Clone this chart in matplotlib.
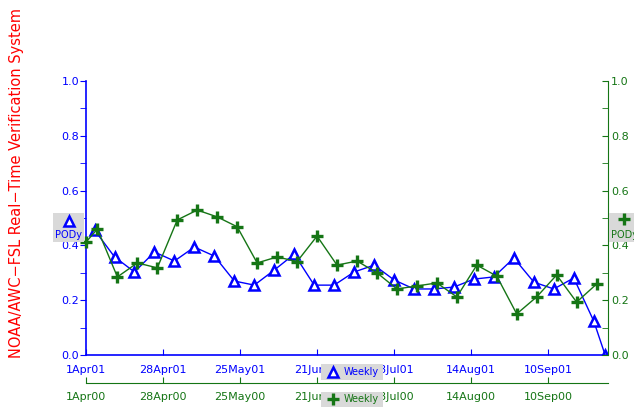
import datetime as dt
import matplotlib
matplotlib.use('Agg')
import matplotlib.pyplot as plt
from matplotlib.patches import Rectangle
from matplotlib.lines import Line2D

# weekly PODy, 2001 (blue, left/top axes) and 2000 (green, right/bottom axes)
blue_dates = ['2001-04-04', '2001-04-11', '2001-04-18', '2001-04-25', '2001-05-02',
              '2001-05-09', '2001-05-16', '2001-05-23', '2001-05-30', '2001-06-06',
              '2001-06-13', '2001-06-20', '2001-06-27', '2001-07-04', '2001-07-11',
              '2001-07-18', '2001-07-25', '2001-08-01', '2001-08-08', '2001-08-15',
              '2001-08-22', '2001-08-29', '2001-09-05', '2001-09-12', '2001-09-19',
              '2001-09-26', '2001-09-30']
blue_pod = [0.456, 0.358, 0.303, 0.376, 0.343, 0.394, 0.361, 0.270, 0.255, 0.310,
            0.368, 0.255, 0.255, 0.303, 0.328, 0.274, 0.241, 0.241, 0.248, 0.277,
            0.285, 0.354, 0.266, 0.241, 0.281, 0.124, 0.0]

green_dates = ['2000-04-01', '2000-04-05', '2000-04-12', '2000-04-19', '2000-04-26',
               '2000-05-03', '2000-05-10', '2000-05-17', '2000-05-24', '2000-05-31',
               '2000-06-07', '2000-06-14', '2000-06-21', '2000-06-28', '2000-07-05',
               '2000-07-12', '2000-07-19', '2000-07-26', '2000-08-02', '2000-08-09',
               '2000-08-16', '2000-08-23', '2000-08-30', '2000-09-06', '2000-09-13',
               '2000-09-20', '2000-09-27']
green_pod = [0.412, 0.460, 0.285, 0.336, 0.318, 0.493, 0.529, 0.504, 0.468, 0.336,
             0.358, 0.341, 0.434, 0.328, 0.343, 0.300, 0.241, 0.252, 0.263, 0.212,
             0.328, 0.288, 0.150, 0.212, 0.292, 0.193, 0.259]

blue_ticks = ['2001-04-01', '2001-04-28', '2001-05-25', '2001-06-21', '2001-07-18', '2001-08-14', '2001-09-10']
blue_labels = ['1Apr01', '28Apr01', '25May01', '21Jun01', '18Jul01', '14Aug01', '10Sep01']
green_ticks = ['2000-04-01', '2000-04-28', '2000-05-25', '2000-06-21', '2000-07-18', '2000-08-14', '2000-09-10']
green_labels = ['1Apr00', '28Apr00', '25May00', '21Jun00', '18Jul00', '14Aug00', '10Sep00']

BLUE = '#0000ff'
GREEN = '#157515'
GREY = '#d9d9d9'

def d(s):
    return dt.datetime.strptime(s, '%Y-%m-%d')

W, H = 634, 409
def px(x, y):
    return (x / W, 1 - y / H)

fig = plt.figure(figsize=(W / 100, H / 100), dpi=100)
rect = [86 / W, (H - 355) / H, (608 - 86) / W, 274 / H]
ax = fig.add_axes(rect)
ax2 = fig.add_axes(rect)
ax2.patch.set_visible(False)

yt = [0.0, 0.2, 0.4, 0.6, 0.8, 1.0]
ym = [0.1, 0.3, 0.5, 0.7, 0.9]

tri = dict(marker='^', ms=6.8, mfc='white', mec=BLUE, mew=1.8)
plus = dict(marker='+', ms=8.5, mec=GREEN, mew=2.4)

# 2001 series
ax.plot([d(s) for s in blue_dates], blue_pod, color=BLUE, lw=1.0, **tri)
ax.set_xlim(d('2001-04-01'), d('2001-10-01'))
ax.set_ylim(0, 1)
ax.set_xticks([d(s) for s in blue_ticks])
ax.set_xticklabels(blue_labels)
ax.set_yticks(yt)
ax.set_yticklabels(['%.1f' % v for v in yt])
ax.set_yticks(ym, minor=True)
for s in ['top', 'right']:
    ax.spines[s].set_visible(False)
for s in ['left', 'bottom']:
    ax.spines[s].set_color(BLUE)
    ax.spines[s].set_linewidth(1.2)
ax.tick_params(axis='y', which='both', direction='out', length=4, color=BLUE,
               labelcolor=BLUE, labelsize=8, pad=1)
ax.tick_params(axis='x', direction='in', length=4, color=BLUE, labelcolor=BLUE,
               labelsize=8, pad=7)

# 2000 series
ax2.plot([d(s) for s in green_dates], green_pod, color=GREEN, lw=1.0, clip_on=False, **plus)
ax2.set_xlim(d('2000-04-01'), d('2000-10-01'))
ax2.set_ylim(0, 1)
ax2.set_xticks([d(s) for s in green_ticks])
ax2.set_xticklabels(green_labels)
ax2.set_yticks(yt)
ax2.set_yticklabels(['%.1f' % v for v in yt])
ax2.set_yticks(ym, minor=True)
ax2.yaxis.tick_right()
for s in ['top', 'left']:
    ax2.spines[s].set_visible(False)
ax2.spines['right'].set_color(GREEN)
ax2.spines['bottom'].set_color(GREEN)
ax2.spines['bottom'].set_position(('outward', 20))
ax2.tick_params(axis='y', which='both', direction='in', length=4, color=GREEN,
                labelcolor=GREEN, labelsize=8, pad=2)
ax2.tick_params(axis='x', direction='in', length=4, color=GREEN, labelcolor=GREEN,
                labelsize=8, pad=7)

# side title
fig.text(*px(17, 183), 'NOAA/AWC\u2212FSL Real\u2212Time Verification System', rotation=90,
         color='red', fontsize=10.5, ha='center', va='center')

def box(x0, y0, x1, y1):
    x, y = px(x0, y1)
    fig.add_artist(Rectangle((x, y), (x1 - x0) / W, (y1 - y0) / H, transform=fig.transFigure,
                             facecolor=GREY, edgecolor='none', zorder=5))

def mark(x, y, style):
    fx, fy = px(x, y)
    fig.add_artist(Line2D([fx], [fy], transform=fig.transFigure, zorder=6, ls='none', **style))

# PODy tags
box(53, 213, 84, 242)
mark(69, 221, tri)
fig.text(*px(69, 235), 'PODy', color=BLUE, fontsize=7, ha='center', va='center', zorder=6)
box(609, 213, 640, 242)
mark(624, 219, plus)
fig.text(*px(611, 235), 'PODy', color=GREEN, fontsize=7, ha='left', va='center', zorder=6)

# weekly legend tags
box(321, 364, 383, 380)
mark(333, 372, tri)
fig.text(*px(344, 372), 'Weekly', color=BLUE, fontsize=7, ha='left', va='center', zorder=6)
box(321, 392, 383, 407)
mark(333, 399, plus)
fig.text(*px(344, 399), 'Weekly', color=GREEN, fontsize=7, ha='left', va='center', zorder=6)

fig.savefig('out.png', dpi=100)
